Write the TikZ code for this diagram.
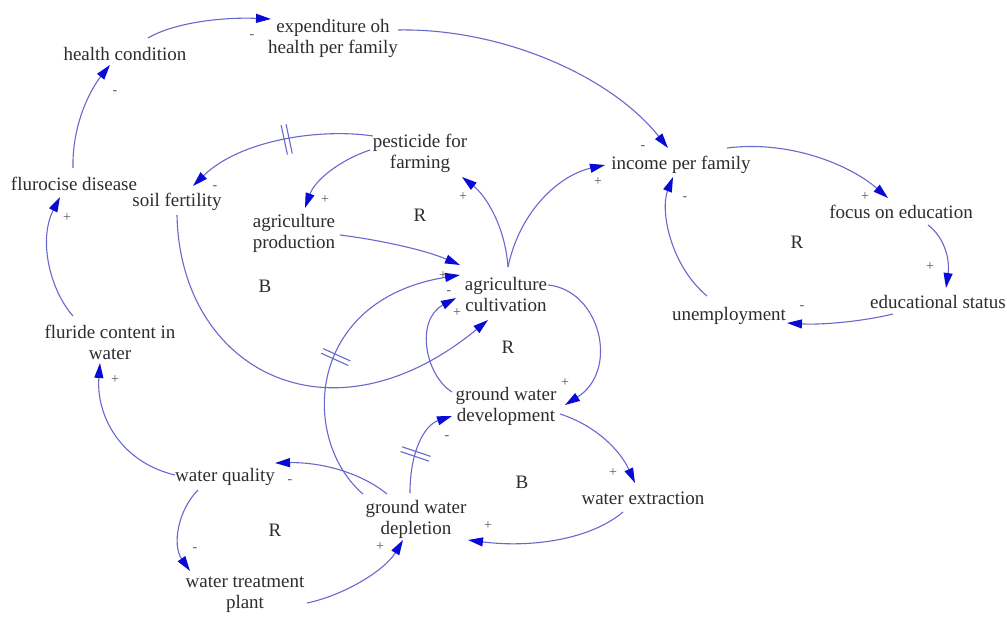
\documentclass[tikz,border=0pt]{standalone}
\usepackage{fontspec}
\setmainfont{Liberation Serif}
\usetikzlibrary{arrows.meta,calc,decorations.markings}
\definecolor{lk}{RGB}{105,105,205}
\definecolor{tipc}{RGB}{10,10,215}
\definecolor{txt}{RGB}{45,45,45}
\begin{document}
\begin{tikzpicture}[x=1pt,y=-1pt,
  var/.style={font=\fontsize{19}{21}\selectfont, text=txt, align=center, inner sep=0pt},
  lnk/.style={draw=lk, line width=1.1pt, -{Triangle[length=15pt,width=9pt,color=tipc]}},
  sgn/.style={font=\fontsize{14}{14}\selectfont, text=txt!80, inner sep=0pt},
  loopl/.style={font=\fontsize{19}{21}\selectfont, text=txt, inner sep=0pt},
  delaymark/.style={postaction={decorate}, decoration={markings, mark=at position #1 with {\draw[-, draw=lk, line width=1.1pt] (-2.5pt,-15pt)--(-2.5pt,15pt) (2.5pt,-15pt)--(2.5pt,15pt);}}}]
\fill[white] (0,0) rectangle (1007,616);
\useasboundingbox (0,0) rectangle (1007,616);
% variables
\node[var] (hc) at (125,54) {health condition};
\node[var] (exp) at (333,38) {expenditure oh\\health per family};
\node[var] (fd) at (74,184) {flurocise disease};
\node[var] (sf) at (177,202) {soil fertility};
\node[var] (pf) at (420,153) {pesticide for\\farming};
\node[var] (ap) at (294,233) {agriculture\\production};
\node[var] (ac) at (506,294) {agriculture\\cultivation};
\node[var] (ipf) at (681,165) {income per family};
\node[var] (foe) at (901,212) {focus on education};
\node[var] (es) at (938,302) {educational status};
\node[var] (un) at (729,316) {unemployment};
\node[var] (fcw) at (110,342) {fluride content in\\water};
\node[var] (wq) at (225,477) {water quality};
\node[var] (wtp) at (245,595) {water treatment\\plant};
\node[var] (gwdev) at (506,406) {ground water\\development};
\node[var] (gwdep) at (416,519) {ground water\\depletion};
\node[var] (we) at (643,498) {water extraction};
% loop labels
\node[loopl] (r1) at (420,215) {R};
\node[loopl] (b1) at (265,286) {B};
\node[loopl] (r2) at (508,347) {R};
\node[loopl] (r3) at (797,242) {R};
\node[loopl] (b2) at (522,482) {B};
\node[loopl] (r4) at (275,530) {R};
% links
\draw[lnk] ($(hc)+(23,-16)$) .. controls (175,22) and (225,17) .. ($(exp)+(-62,-19)$);
\draw[lnk] ($(exp)+(65,-8)$) .. controls (500,28) and (610,75) .. ($(ipf)+(-13,-17)$);
\draw[lnk] ($(fd)+(-1,-16)$) .. controls (72,125) and (90,90) .. ($(hc)+(-15,11)$);
\draw[lnk] ($(fcw)+(-37,-26)$) .. controls (50,290) and (38,240) .. ($(fd)+(-14,13)$);
\draw[lnk] ($(wq)+(-50,-2)$) .. controls (120,462) and (96,415) .. ($(fcw)+(-10,21)$);
\draw[lnk] ($(wq)+(-27,13)$) .. controls (178,510) and (172,545) .. ($(wtp)+(-55,-24)$);
\draw[lnk] ($(wtp)+(62,8)$) .. controls (345,595) and (385,570) .. ($(gwdep)+(-13,21)$);
\draw[lnk] ($(gwdep)+(-29,-25)$) .. controls (360,472) and (320,462) .. ($(wq)+(50,-14)$);
\draw[lnk, delaymark=0.49] ($(gwdep)+(-53,-25)$) .. controls (300,440) and (305,300) .. ($(ac)+(-46,-19)$);
\draw[lnk] ($(ap)+(46,2)$) .. controls (380,240) and (425,250) .. ($(ac)+(-46,-29)$);
\draw[lnk] ($(sf)+(0,13)$) .. controls (180,370) and (330,450) .. ($(ac)+(-18,26)$);
\draw[lnk] ($(ac)+(2,-27)$) .. controls (505,225) and (485,195) .. ($(pf)+(42,24)$);
\draw[lnk] ($(ac)+(2,-27)$) .. controls (520,210) and (560,175) .. ($(ipf)+(-76,0)$);
\draw[lnk] ($(ac)+(42,-9)$) .. controls (600,290) and (620,370) .. ($(gwdev)+(59,-1)$);
\draw[lnk] ($(gwdev)+(-54,-14)$) .. controls (425,375) and (415,320) .. ($(ac)+(-50,4)$);
\draw[lnk] ($(gwdev)+(54,8)$) .. controls (595,425) and (620,450) .. ($(we)+(-8,-15)$);
\draw[lnk] ($(we)+(-20,14)$) .. controls (590,540) and (530,548) .. ($(gwdep)+(52,21)$);
\draw[lnk, delaymark=0.42] ($(gwdep)+(-6,-26)$) .. controls (410,450) and (425,425) .. ($(gwdev)+(-54,10)$);
\draw[lnk, delaymark=0.45] ($(pf)+(-47,-17)$) .. controls (320,128) and (240,140) .. ($(sf)+(16,-16)$);
\draw[lnk] ($(pf)+(-50,-3)$) .. controls (340,160) and (315,180) .. ($(ap)+(11,-25)$);
\draw[lnk] ($(ipf)+(46,-17)$) .. controls (790,140) and (850,165) .. ($(foe)+(-13,-14)$);
\draw[lnk] ($(foe)+(27,13)$) .. controls (945,238) and (950,260) .. ($(es)+(8,-14)$);
\draw[lnk] ($(es)+(-45,12)$) .. controls (860,322) and (820,325) .. ($(un)+(58,7)$);
\draw[lnk] ($(un)+(-22,-20)$) .. controls (670,265) and (660,210) .. ($(ipf)+(-8,12)$);
% polarity signs
\node[sgn] (p1) at (252,37) {-};
\node[sgn] (p2) at (115,93) {-};
\node[sgn] (p3) at (67,218) {+};
\node[sgn] (p4) at (215,188) {-};
\node[sgn] (p5) at (325,200) {+};
\node[sgn] (p6) at (463,197) {+};
\node[sgn] (p7) at (598,182) {+};
\node[sgn] (p8) at (643,148) {-};
\node[sgn] (p9) at (865,197) {+};
\node[sgn] (p10) at (685,199) {-};
\node[sgn] (p11) at (930,267) {+};
\node[sgn] (p12) at (802,308) {-};
\node[sgn] (p13) at (115,380) {+};
\node[sgn] (p14) at (290,482) {-};
\node[sgn] (p15) at (195,550) {-};
\node[sgn] (p16) at (565,383) {+};
\node[sgn] (p17) at (447,438) {-};
\node[sgn] (p18) at (613,473) {+};
\node[sgn] (p19) at (488,526) {+};
\node[sgn] (p20) at (380,547) {+};
\node[sgn] (p21) at (443,276) {+};
\node[sgn] (p22) at (449,293) {-};
\node[sgn] (p23) at (457,313) {+};
\end{tikzpicture}
\end{document}
